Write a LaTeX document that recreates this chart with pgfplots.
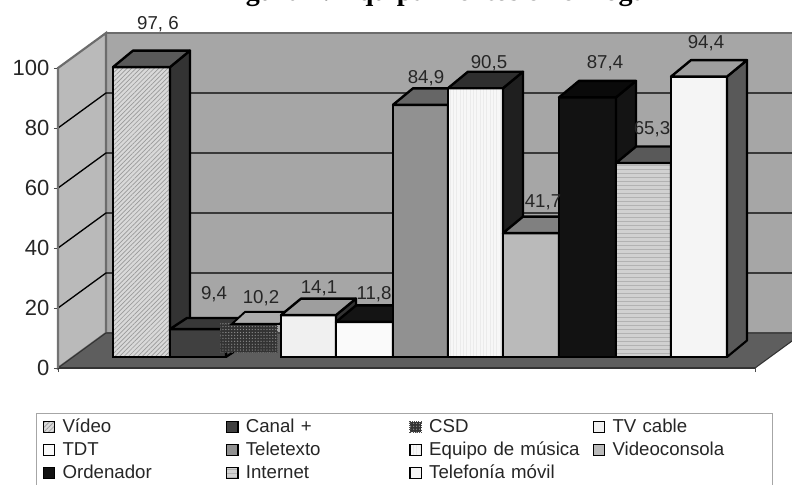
\documentclass[border=0pt]{standalone}
\usepackage{fontspec}
\setmainfont{Liberation Sans}
\newfontfamily\titlefont{Liberation Serif}
\usepackage{pgfplots}
\pgfplotsset{compat=1.18}
\usetikzlibrary{patterns,patterns.meta}

% x is in picture pixels, y is the value on the front plane of the 3D box
% bars: base 3.67, 0.99 per unit, depth 20 px across and 5.5 units up
\def\depthx{20}
\def\depthy{5.5}
\newcommand{\threedbar}[6]{%
  \pgfmathsetmacro{\yt}{3.67+0.99*#3}%
  \pgfmathsetmacro{\xb}{#1+\depthx}%
  \pgfmathsetmacro{\xc}{#2+\depthx}%
  \pgfmathsetmacro{\yb}{\yt+\depthy}%
  \pgfmathsetmacro{\yc}{3.67+\depthy}%
  \addplot[#4,draw=black,line width=0.9pt] coordinates {(#1,3.67) (#1,\yt) (#2,\yt) (#2,3.67)} --cycle;
  \addplot[forget plot,fill=#5,draw=black,line width=1.6pt,line join=round] coordinates {(#2,3.67) (#2,\yt) (\xc,\yb) (\xc,\yc)} --cycle;
  \addplot[forget plot,fill=#6,draw=black,line width=1.8pt,line join=round] coordinates {(#1,\yt) (\xb,\yb) (\xc,\yb) (#2,\yt)} --cycle;
}

\begin{document}
\begin{tikzpicture}
\path[use as bounding box] (-43.5pt,-87.75pt) rectangle (550.5pt,276pt);
\clip (-43.5pt,-87.75pt) rectangle (550.5pt,276pt);
\node[font=\titlefont\bfseries\fontsize{21}{24}\selectfont,anchor=base] at (286.5pt,275.5pt) {Figura 4. Equipamientos en el hogar};
\begin{axis}[
  at={(0,0)},anchor=south west,
  scale only axis,width=522.75pt,height=225pt,
  xmin=58,xmax=755,ymin=0,ymax=100,
  clip=false,axis on top,
  axis lines=left,axis line style={-,draw=gray!90!black,line width=1.2pt},
  x axis line style={draw=black!80,line width=0.8pt},
  tick align=outside,major tick length=3pt,tick style={draw=black!70,line width=0.6pt},
  xtick={58,755},xticklabels={},
  ytick={0,20,40,60,80,100},
  /pgf/number format/assume math mode=true,
  tick label style={font=\fontsize{16.5}{18}\selectfont,text=black!85},
  legend columns=4,
  legend image code/.code={\draw[#1,line width=1pt] (0pt,-4pt) rectangle (8.5pt,4pt);},
  legend style={at={(-16.5pt,-33.75pt)},anchor=north west,draw=gray!70,line width=0.8pt,
    inner xsep=4.5pt,inner ysep=1.5pt,
    font=\fontsize{14}{16}\selectfont,text=black!85,
    /tikz/column 8/.style={nodes={text width=110pt}},
    nodes={text width=117pt,align=left,anchor=west,inner xsep=5.5pt,inner ysep=0pt,minimum height=17.25pt},
    cells={anchor=west}},
]
% walls and floor
\addplot[forget plot,fill=black!35,draw=gray!85!black,line width=1.2pt] coordinates {(106,11.67) (106,111.67) (810,111.67) (810,11.67)} --cycle;
\addplot[forget plot,fill=black!27,draw=gray!85!black,line width=1.6pt] coordinates {(58,0) (58,100) (106,111.67) (106,11.67)} --cycle;
\addplot[forget plot,fill=black!63,draw=black!80,line width=0.8pt] coordinates {(58,0) (106,11.67) (803,11.67) (755,0)} --cycle;
% gridlines
\addplot[forget plot,black,line width=1pt] coordinates {(58,20) (106,31.67) (810,31.67)};
\addplot[forget plot,black,line width=1pt] coordinates {(58,40) (106,51.67) (810,51.67)};
\addplot[forget plot,black,line width=1pt] coordinates {(58,60) (106,71.67) (810,71.67)};
\addplot[forget plot,black,line width=1pt] coordinates {(58,80) (106,91.67) (810,91.67)};
% data labels sit behind the bars
\addplot[forget plot,draw=none,mark=none,nodes near coords,point meta=explicit symbolic,
  every node near coord/.style={anchor=center,inner sep=0pt,font=\fontsize{14}{16}\selectfont,text=black!85}]
  table[meta=lbl,col sep=space] {
x y lbl
158 114.67 {97,~6}
214 24.67 {9,4}
261 23.33 {10,2}
319 26.67 {14,1}
374 24.67 {11,8}
426 96.67 {84,9}
489 101.67 {90,5}
543 55.33 {41,7}
605 101.67 {87,4}
652 79.67 {65,3}
706 108.33 {94,4}
};
\threedbar{113}{170}{97.6}{fill=black!15,postaction={pattern={Lines[angle=45,distance=2.4pt,line width=0.5pt]},pattern color=black!40}}{black!80}{black!65}
% Canal + has a shallower top in the reference
\def\depthx{17}\def\depthy{3.7}
\threedbar{170}{226}{9.4}{fill=black!75}{black!75}{black!78}
\def\depthx{20}\def\depthy{5.5}
% CSD sits slightly off the others in the reference
\addplot[fill=black!80,draw=black!70,densely dotted,line width=0.6pt,postaction={pattern={Dots[radius=0.5pt,distance=2.2pt]},pattern color=black!45}] coordinates {(220,5.33) (220,14.7) (277,14.7) (277,5.33)} --cycle;
\addplot[forget plot,fill=black!33,draw=black,line width=1.4pt] coordinates {(232,14.7) (245,18.7) (287,18.7) (280,14.7)} --cycle;
\threedbar{281}{336}{14.1}{fill=black!6}{black!80}{black!38}
\threedbar{336}{393}{11.8}{fill=black!2}{black!90}{black!92}
\threedbar{393}{448}{84.9}{fill=black!43}{black!45}{black!60}
\threedbar{448}{503}{90.5}{fill=black!3,postaction={pattern={Lines[angle=90,distance=2.5pt,line width=0.5pt]},pattern color=black!8}}{black!88}{black!82}
\threedbar{503}{559}{41.7}{fill=black!27}{black!50}{black!50}
\threedbar{559}{616}{87.4}{fill=black!93}{black!92}{black!96}
\threedbar{616}{671}{65.3}{fill=black!18,postaction={pattern={Lines[angle=0,distance=3pt,line width=0.7pt]},pattern color=black!30}}{black!55}{black!65}
\threedbar{671}{727}{94.4}{fill=black!4}{black!65}{black!38}
\legend{Vídeo,Canal +,CSD,TV cable,TDT,Teletexto,Equipo de música,Videoconsola,Ordenador,Internet,Telefonía móvil}
\end{axis}
\end{tikzpicture}
\end{document}
